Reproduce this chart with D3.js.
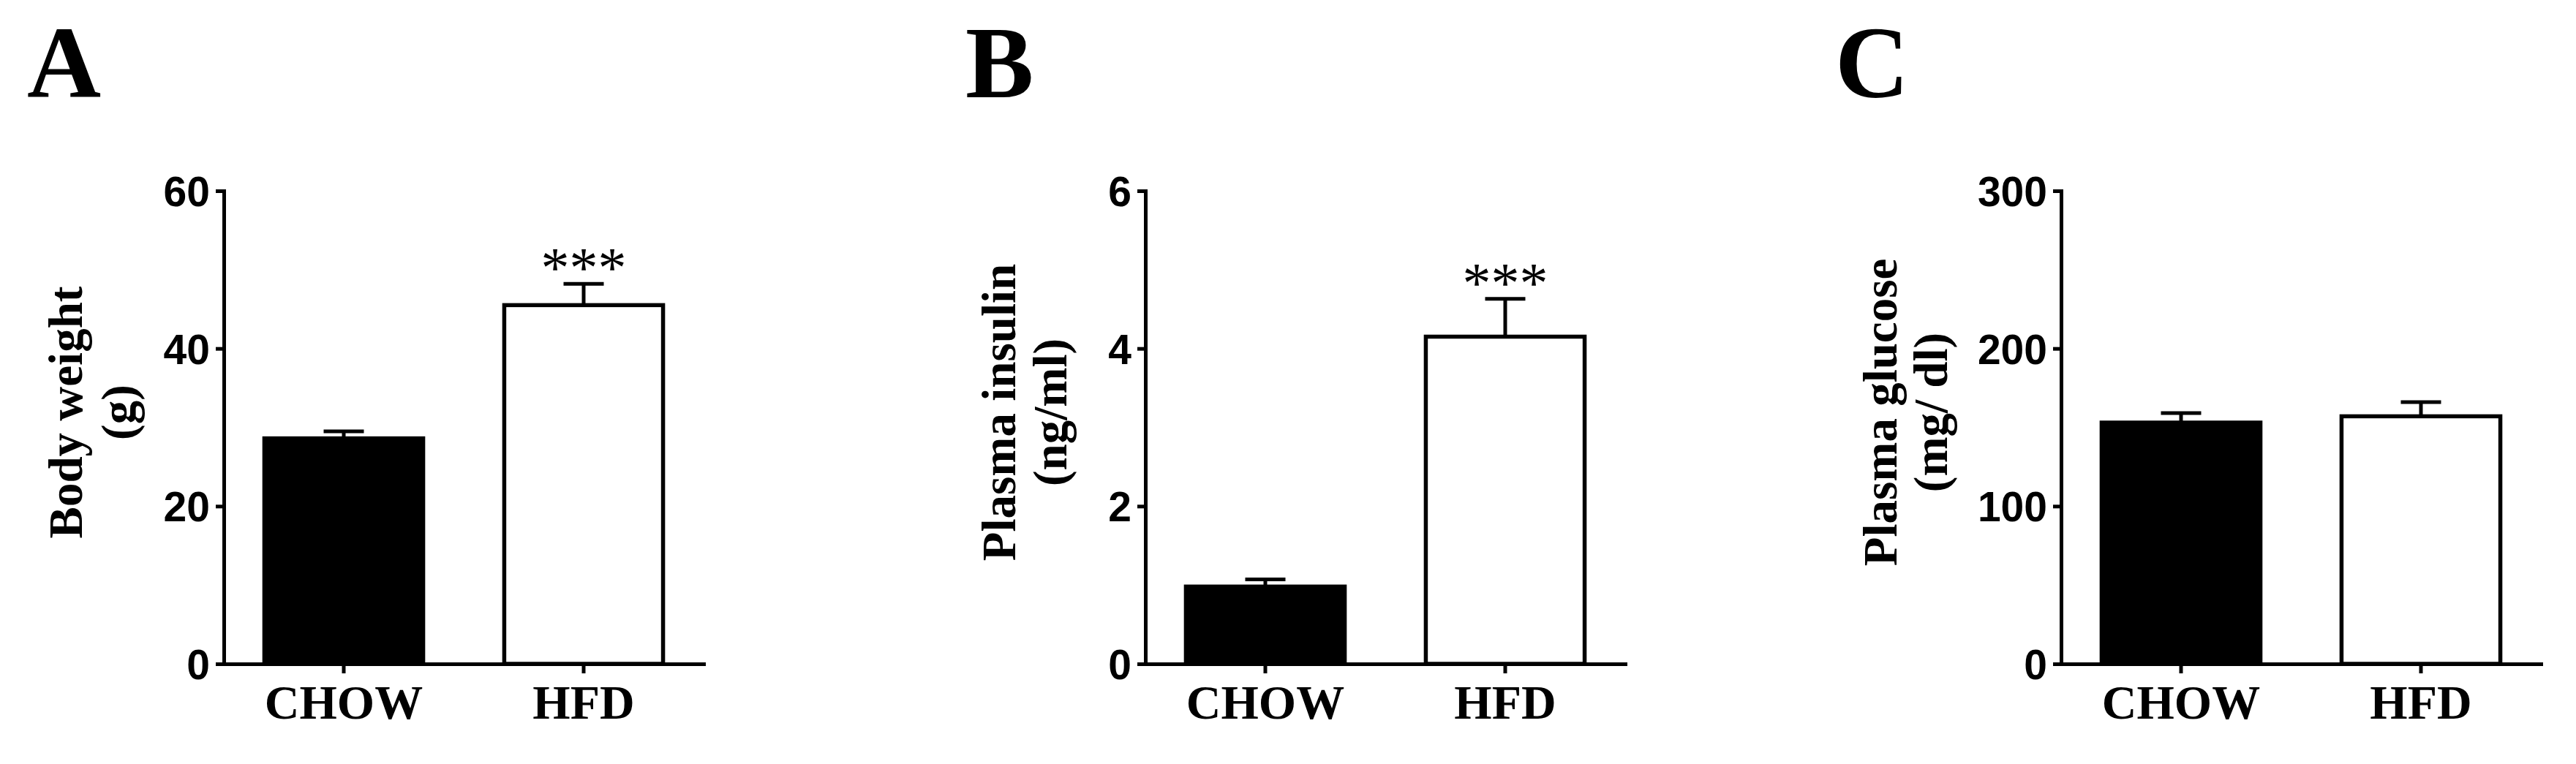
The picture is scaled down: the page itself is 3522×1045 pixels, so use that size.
<!DOCTYPE html>
<html>
<head>
<meta charset="utf-8">
<script src="https://cdn.jsdelivr.net/npm/d3@7"></script>
<style>
  html, body { margin: 0; padding: 0; background: #fff; }
  svg { display: block; }
</style>
</head>
<body>
<script>
// ---------------- data ----------------
const categories = ["CHOW", "HFD"];

const bodyWeight = [28.6, 45.5];
const bodyWeightSEM = [0.9, 2.7];

const plasmaInsulin = [0.98, 4.15];
const plasmaInsulinSEM = [0.09, 0.48];

const plasmaGlucose = [153, 157];
const plasmaGlucoseSEM = [6, 9];

const yTicksA = [0, 20, 40, 60];
const yTicksB = [0, 2, 4, 6];
const yTicksC = [0, 100, 200, 300];

const panelLetters = ["A", "B", "C"];
const yTitlesA = ["Body weight", "(g)"];
const yTitlesB = ["Plasma insulin", "(ng/ml)"];
const yTitlesC = ["Plasma glucose", "(mg/ dl)"];

const significanceA = ["", "***"];
const significanceB = ["", "***"];
const significanceC = ["", ""];

const barFills = ["#000000", "#ffffff"];

// ---------------- layout ----------------
const W = 3522, H = 1045;
const yTop = 261, yBottom = 908, axisLen = 656;
const lw = 5;
const sansFont = "'Liberation Sans', Arial, Helvetica, sans-serif";
const serifFont = "'Liberation Serif', 'Times New Roman', Times, serif";

const panels = [
  { letter: panelLetters[0], values: bodyWeight, sem: bodyWeightSEM, ticks: yTicksA, title: yTitlesA, sig: significanceA,
    axisX: 306, titleX: [112, 184], letterX: 37 },
  { letter: panelLetters[1], values: plasmaInsulin, sem: plasmaInsulinSEM, ticks: yTicksB, title: yTitlesB, sig: significanceB,
    axisX: 1566, titleX: [1388, 1458], letterX: 1320 },
  { letter: panelLetters[2], values: plasmaGlucose, sem: plasmaGlucoseSEM, ticks: yTicksC, title: yTitlesC, sig: significanceC,
    axisX: 2818, titleX: [2593, 2662], letterX: 2509 }
];

const svg = d3.select("body").append("svg")
  .attr("width", W).attr("height", H)
  .style("background", "#fff");

svg.append("rect").attr("width", W).attr("height", H).attr("fill", "#fff");

panels.forEach(p => {
  const g = svg.append("g");

  const x = d3.scaleBand()
    .domain(categories)
    .range([p.axisX, p.axisX + axisLen])
    .paddingInner(0.338)
    .paddingOuter(0.169);

  const y = d3.scaleLinear()
    .domain([p.ticks[0], p.ticks[p.ticks.length - 1]])
    .range([yBottom, yTop]);

  // panel letter
  g.append("text")
    .attr("x", p.letterX).attr("y", 133)
    .attr("font-family", serifFont)
    .attr("font-weight", "bold")
    .attr("font-size", 140)
    .attr("fill", "#000")
    .text(p.letter);

  // bars
  g.selectAll("rect.bar")
    .data(categories)
    .join("rect")
    .attr("class", "bar")
    .attr("x", d => x(d))
    .attr("width", x.bandwidth())
    .attr("y", (d, i) => y(p.values[i]))
    .attr("height", (d, i) => yBottom - y(p.values[i]))
    .attr("fill", (d, i) => barFills[i])
    .attr("stroke", "#000")
    .attr("stroke-width", lw + 0.5);

  // error bars (upper only)
  const capW = 55;
  categories.forEach((c, i) => {
    const cx = x(c) + x.bandwidth() / 2;
    const yv = y(p.values[i]);
    const ye = y(p.values[i] + p.sem[i]);
    g.append("line")
      .attr("x1", cx).attr("x2", cx)
      .attr("y1", yv).attr("y2", ye)
      .attr("stroke", "#000").attr("stroke-width", lw);
    g.append("line")
      .attr("x1", cx - capW / 2).attr("x2", cx + capW / 2)
      .attr("y1", ye).attr("y2", ye)
      .attr("stroke", "#000").attr("stroke-width", lw);
    if (p.sig[i]) {
      g.append("text")
        .attr("x", cx).attr("y", ye + 4)
        .attr("text-anchor", "middle")
        .attr("font-family", serifFont)
        .attr("font-size", 78)
        .attr("fill", "#000")
        .text(p.sig[i]);
    }
  });

  // y axis
  const yAxis = g.append("g")
    .attr("transform", `translate(${p.axisX},0)`)
    .call(d3.axisLeft(y).tickValues(p.ticks).tickSize(11).tickSizeOuter(0).tickPadding(8).tickFormat(d3.format("d")));
  yAxis.select(".domain").attr("stroke-width", lw).attr("stroke-linecap", "square");
  yAxis.selectAll(".tick line").attr("stroke-width", lw);
  yAxis.selectAll(".tick text")
    .attr("font-family", sansFont)
    .attr("font-weight", "bold")
    .attr("font-size", 57)
    .attr("dy", "0.36em")
    .attr("fill", "#000");

  // x axis
  const xAxis = g.append("g")
    .attr("transform", `translate(0,${yBottom})`)
    .call(d3.axisBottom(x).tickSize(13).tickSizeOuter(0));
  xAxis.select(".domain").attr("stroke-width", lw).attr("stroke-linecap", "square");
  xAxis.selectAll(".tick line").attr("stroke-width", lw);
  xAxis.selectAll(".tick text")
    .attr("y", 75)
    .attr("dy", 0)
    .attr("font-family", serifFont)
    .attr("font-weight", "bold")
    .attr("font-size", 66)
    .attr("fill", "#000");

  // y title (two lines)
  p.title.forEach((t, k) => {
    g.append("text")
      .attr("transform", `translate(${p.titleX[k]},564) rotate(-90)`)
      .attr("text-anchor", "middle")
      .attr("font-family", serifFont)
      .attr("font-weight", "bold")
      .attr("font-size", 65)
      .attr("fill", "#000")
      .text(t);
  });
});
</script>
</body>
</html>
